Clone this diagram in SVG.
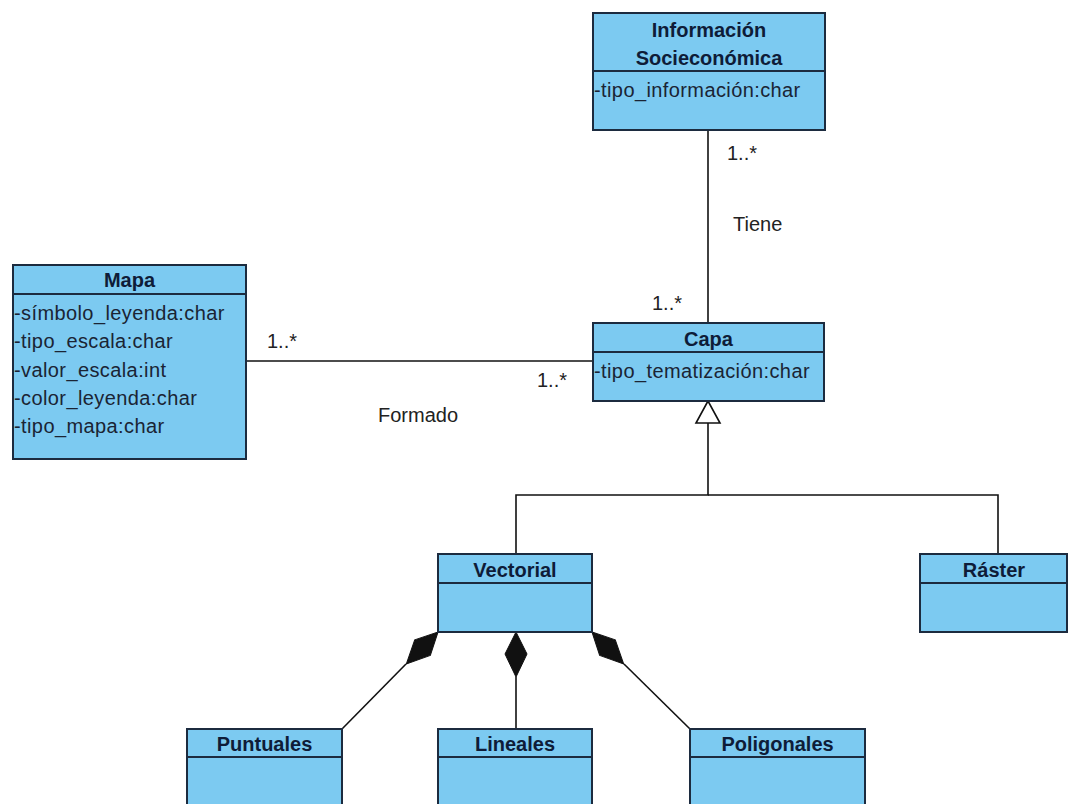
<svg xmlns="http://www.w3.org/2000/svg" width="1068" height="804" viewBox="0 0 1068 804">
<style>
.box{fill:#7ccaf1;stroke:#1c2b3f;stroke-width:2}
.div{stroke:#1c2b3f;stroke-width:2}
.t{font-family:"Liberation Sans",Arial,sans-serif;font-size:20px;font-weight:bold;fill:#0e1c38;text-anchor:middle}
.a{font-family:"Liberation Sans",Arial,sans-serif;font-size:20px;fill:#1a2434;letter-spacing:0.4px}
.l{font-family:"Liberation Sans",Arial,sans-serif;font-size:20px;fill:#222}
.c{stroke:#111;stroke-width:1.6;fill:none}
.dia{fill:#111;stroke:#111;stroke-width:1}
</style>
<rect width="1068" height="804" fill="#fff"/>
<g id="connectors">
<line class="c" x1="708" y1="130" x2="708" y2="323"/>
<line class="c" x1="246" y1="361" x2="593" y2="361"/>
<polyline class="c" points="708,423 708,495 516,495 516,554"/>
<polyline class="c" points="708,495 998,495 998,554"/>
<polygon points="708,401 696,423 720,423" fill="#fff" stroke="#111" stroke-width="1.6"/>
<line class="c" x1="406" y1="664" x2="342" y2="729"/>
<line class="c" x1="516" y1="677" x2="516" y2="729"/>
<line class="c" x1="624" y1="664" x2="690" y2="729"/>
<polygon class="dia" points="0,0 22,-11 45,0 22,11" transform="translate(438,632) rotate(134.7)"/>
<polygon class="dia" points="0,0 22,-11 45,0 22,11" transform="translate(516,632) rotate(90)"/>
<polygon class="dia" points="0,0 22,-11 45,0 22,11" transform="translate(592,632) rotate(45.3)"/>
<text class="l" x="727" y="160">1..*</text>
<text class="l" x="733" y="231">Tiene</text>
<text class="l" x="652" y="310">1..*</text>
<text class="l" x="267" y="348">1..*</text>
<text class="l" x="537" y="387">1..*</text>
<text class="l" x="378" y="422">Formado</text>
</g>
<g id="info">
<rect class="box" x="593" y="13" width="232" height="117"/>
<line class="div" x1="593" y1="71" x2="825" y2="71"/>
<text class="t" x="709" y="37">Información</text>
<text class="t" x="709" y="65">Socieconómica</text>
<text class="a" x="594" y="97">-tipo_información:char</text>
</g>
<g id="mapa">
<rect class="box" x="13" y="265" width="233" height="194"/>
<line class="div" x1="13" y1="294" x2="246" y2="294"/>
<text class="t" x="129.5" y="287">Mapa</text>
<text class="a" x="14" y="320">-símbolo_leyenda:char</text>
<text class="a" x="14" y="348">-tipo_escala:char</text>
<text class="a" x="14" y="377">-valor_escala:int</text>
<text class="a" x="14" y="405">-color_leyenda:char</text>
<text class="a" x="14" y="433">-tipo_mapa:char</text>
</g>
<g id="capa">
<rect class="box" x="593" y="323" width="231" height="78"/>
<line class="div" x1="593" y1="352" x2="824" y2="352"/>
<text class="t" x="708.5" y="346">Capa</text>
<text class="a" x="594" y="378">-tipo_tematización:char</text>
</g>
<g id="vectorial">
<rect class="box" x="438" y="554" width="154" height="78"/>
<line class="div" x1="438" y1="583" x2="592" y2="583"/>
<text class="t" x="515" y="577">Vectorial</text>
</g>
<g id="raster">
<rect class="box" x="920" y="554" width="147" height="78"/>
<line class="div" x1="920" y1="583" x2="1067" y2="583"/>
<text class="t" x="994" y="577">Ráster</text>
</g>
<g id="puntuales">
<rect class="box" x="187" y="729" width="155" height="90"/>
<line class="div" x1="187" y1="757" x2="342" y2="757"/>
<text class="t" x="264.5" y="751">Puntuales</text>
</g>
<g id="lineales">
<rect class="box" x="438" y="729" width="154" height="90"/>
<line class="div" x1="438" y1="757" x2="592" y2="757"/>
<text class="t" x="515" y="751">Lineales</text>
</g>
<g id="poligonales">
<rect class="box" x="690" y="729" width="175" height="90"/>
<line class="div" x1="690" y1="757" x2="865" y2="757"/>
<text class="t" x="777.5" y="751">Poligonales</text>
</g>
</svg>
